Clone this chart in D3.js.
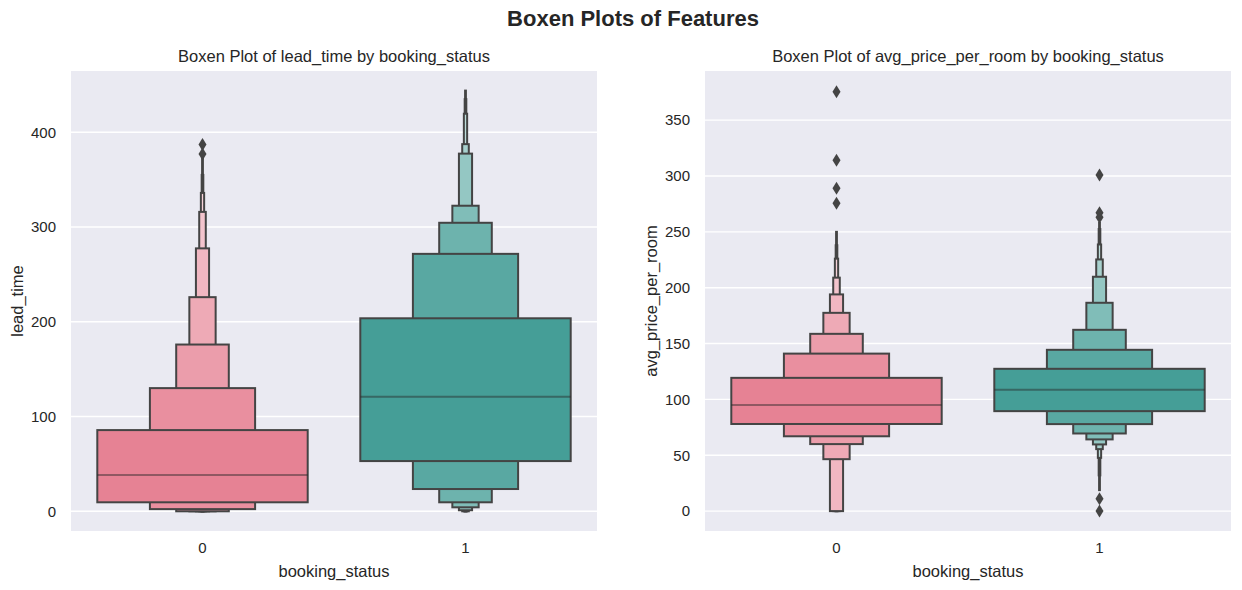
<!DOCTYPE html>
<html>
<head>
<meta charset="utf-8">
<script src="https://cdn.jsdelivr.net/npm/d3@7"></script>
<style>
  body { margin: 0; background: #fff; }
  text { font-family: "Liberation Sans", Arial, sans-serif; fill: #262626; }
</style>
</head>
<body>
<script>
// categories on the x axis
var categories = ["0", "1"];

// lead_time letter values, innermost level first
var leadLower0 = [9.5, 2.3, 0, 0, 0, 0, 0, 0, 0];
var leadUpper0 = [85.7, 130, 176, 226, 277.5, 316, 336, 355, 372];
var leadLower1 = [53, 23.5, 9.5, 4.2, 1.1, 0, 0, 0, 0];
var leadUpper1 = [203.7, 271.7, 304.5, 322.5, 377.5, 387.5, 419.6, 435, 444];
var leadMedians = [38.4, 121];
var leadOutliers0 = [377, 387];
var leadOutliers1 = [];
var leadTicks = [0, 100, 200, 300, 400];

// avg_price_per_room letter values
var priceLower0 = [78, 67, 60, 46.5, 0, 0, 0, 0, 0];
var priceUpper0 = [119.3, 141, 158.7, 177.5, 194, 209, 226, 238, 250];
var priceLower1 = [89.5, 77.9, 69.5, 64.2, 59.7, 55.5, 47.7, 32, 18.8];
var priceUpper1 = [127.4, 144.4, 162.3, 186.5, 209.8, 225.3, 238.7, 252.5, 258];
var priceMedians = [95, 108.6];
var priceOutliers0 = [275.5, 289, 314, 375.5];
var priceOutliers1 = [0, 11, 263, 267, 300.8];
var priceTicks = [0, 50, 100, 150, 200, 250, 300, 350];

var baseColors = ["#f77189", "#36ada4"];

var W = 1242, H = 590;
var svg = d3.select("body").append("svg")
  .attr("width", W)
  .attr("height", H);

svg.append("text")
  .attr("x", 633)
  .attr("y", 26)
  .attr("text-anchor", "middle")
  .style("font-size", "22px")
  .style("font-weight", "bold")
  .text("Boxen Plots of Features");

var gray = "#444444";

function desat(c) {
  var h = d3.hsl(c);
  h.s = h.s * 0.75;
  return h.formatHex();
}

function drawPanel(opt) {
  var left = opt.left, top = 71, w = 526, h = 460;
  var g = svg.append("g").attr("transform", "translate(" + left + "," + top + ")");

  var x = d3.scaleBand().domain(categories).range([0, w]);
  var y = d3.scaleLinear().domain(opt.domain).range([h, 0]);

  g.append("rect")
    .attr("width", w)
    .attr("height", h)
    .attr("fill", "#eaeaf2");

  // grid
  g.selectAll(".grid")
    .data(opt.ticks)
    .enter()
    .append("line")
    .attr("x1", 0)
    .attr("x2", w)
    .attr("y1", function(d) { return y(d); })
    .attr("y2", function(d) { return y(d); })
    .attr("stroke", "#fff")
    .attr("stroke-width", 1.4);

  // y tick labels
  g.selectAll(".ytick")
    .data(opt.ticks)
    .enter()
    .append("text")
    .attr("x", -15)
    .attr("y", function(d) { return y(d); })
    .attr("dy", "0.35em")
    .attr("text-anchor", "end")
    .style("font-size", "15px")
    .text(function(d) { return d; });

  // x tick labels
  g.selectAll(".xtick")
    .data(categories)
    .enter()
    .append("text")
    .attr("x", function(d) { return x(d) + x.bandwidth() / 2; })
    .attr("y", h + 22)
    .attr("text-anchor", "middle")
    .style("font-size", "15px")
    .text(function(d) { return d; });

  g.append("text")
    .attr("x", w / 2)
    .attr("y", h + 46)
    .attr("text-anchor", "middle")
    .style("font-size", "16.5px")
    .text("booking_status");

  g.append("text")
    .attr("transform", "translate(" + opt.ylabelX + "," + (h / 2) + ") rotate(-90)")
    .attr("text-anchor", "middle")
    .style("font-size", "16.5px")
    .text(opt.ylabel);

  g.append("text")
    .attr("x", w / 2)
    .attr("y", -9)
    .attr("text-anchor", "middle")
    .style("font-size", "16.5px")
    .text(opt.title);

  var full = x.bandwidth() * 0.8;

  categories.forEach(function(cat, ci) {
    var lower = opt.lower[ci], upper = opt.upper[ci];
    var k = lower.length;
    var base = desat(baseColors[ci]);
    var light = d3.interpolateRgb(base, "#ffffff")(0.85);
    var cx = x(cat) + x.bandwidth() / 2;
    var levels = d3.range(k).reverse();
    var grp = g.append("g");

    grp.selectAll("rect")
      .data(levels)
      .enter()
      .append("rect")
      .attr("x", function(i) { return cx - full * Math.pow(2, -i) / 2; })
      .attr("width", function(i) { return full * Math.pow(2, -i); })
      .attr("y", function(i) { return y(upper[i]); })
      .attr("height", function(i) { return y(lower[i]) - y(upper[i]); })
      .attr("fill", function(i) { return d3.interpolateRgb(base, light)(i / (k - 1)); })
      .attr("stroke", gray)
      .attr("stroke-width", 2);

    grp.append("line")
      .attr("x1", cx - full / 2)
      .attr("x2", cx + full / 2)
      .attr("y1", y(opt.medians[ci]))
      .attr("y2", y(opt.medians[ci]))
      .attr("stroke", "#262626")
      .attr("stroke-opacity", 0.45)
      .attr("stroke-width", 2);

    grp.selectAll(".out")
      .data(opt.outliers[ci])
      .enter()
      .append("path")
      .attr("d", "M0,-6.5L4,0L0,6.5L-4,0Z")
      .attr("transform", function(d) { return "translate(" + cx + "," + y(d) + ")"; })
      .attr("fill", gray);
  });
}

drawPanel({
  left: 71,
  domain: [-20.8, 464.7],
  ticks: leadTicks,
  lower: [leadLower0, leadLower1],
  upper: [leadUpper0, leadUpper1],
  medians: leadMedians,
  outliers: [leadOutliers0, leadOutliers1],
  title: "Boxen Plot of lead_time by booking_status",
  ylabel: "lead_time",
  ylabelX: -48
});

drawPanel({
  left: 705,
  domain: [-17.8, 394],
  ticks: priceTicks,
  lower: [priceLower0, priceLower1],
  upper: [priceUpper0, priceUpper1],
  medians: priceMedians,
  outliers: [priceOutliers0, priceOutliers1],
  title: "Boxen Plot of avg_price_per_room by booking_status",
  ylabel: "avg_price_per_room",
  ylabelX: -48
});
</script>
</body>
</html>
